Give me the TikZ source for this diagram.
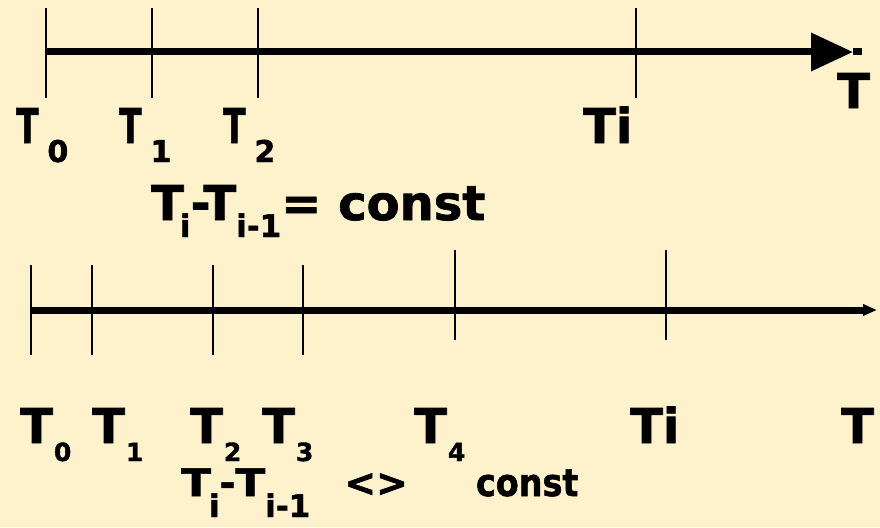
\documentclass[tikz,border=0pt]{standalone}
\usepackage{fontspec}
\setmainfont{DejaVu Sans}[BoldFeatures={FakeBold=1.5}]
\usepackage{graphicx}
\usetikzlibrary{arrows.meta}

\definecolor{slidebg}{HTML}{FEF2CC}
\newcommand{\bigT}{\fontsize{48}{50}\selectfont\bfseries}
\newcommand{\midT}{\fontsize{38}{40}\selectfont\bfseries}
% tick labels: narrow T on the upper axis, plain T below
\newcommand{\topT}[1]{\scalebox{0.68}[1]{T}\hspace{9pt}\raisebox{-19pt}{\fontsize{30}{30}\selectfont #1}}
\newcommand{\botT}[1]{T\hspace{1pt}\raisebox{-18pt}{\fontsize{25}{25}\selectfont #1}}
\newcommand{\fsub}[3]{\raisebox{-#1pt}{\fontsize{#2}{#2}\selectfont #3}}

\begin{document}
\begin{tikzpicture}[x=1pt,y=-1pt,
  axis/.style={line width=7pt},
  tick/.style={line width=2pt},
  lbl/.style={font=\bigT,inner sep=0pt,anchor=base west}]
  \fill[slidebg] (0,0) rectangle (880,527);
  \useasboundingbox (0,0) rectangle (880,527);

  % equal steps
  \coordinate (a0) at (46,52);
  \coordinate (atip) at (853,52);
  \coordinate (aend) at (862,52);
  \foreach \x in {46,152,258,636} \draw[tick] (\x,8) -- (\x,98);
  \draw[axis,-{Triangle[length=42pt,width=37pt]}] (a0) -- (atip);
  \draw[axis] (atip) -- (aend);
  \node[lbl] (t0) at (16,143) {\topT{0}};
  \node[lbl] (t1) at (119,143) {\topT{1}};
  \node[lbl] (t2) at (223,143) {\topT{2}};
  \node[lbl] (ti) at (583,143) {Ti};
  \node[lbl] (tT) at (837,108) {T};
  \node[lbl] (eq) at (151,220)
    {T\hspace{-4pt}\fsub{17}{31}{i}-T\fsub{17}{31}{i-1}= const};

  % unequal steps
  \coordinate (b0) at (31,310);
  \coordinate (bend) at (877,310);
  \foreach \x in {31,92,213,303} \draw[tick] (\x,265) -- (\x,355);
  \foreach \x in {455,666} \draw[tick] (\x,250) -- (\x,340);
  \draw[axis,-{Triangle[length=14pt,width=11pt]}] (b0) -- (bend);
  \node[lbl] (b0l) at (20,443) {\botT{0}};
  \node[lbl] (b1l) at (92,443) {\botT{1}};
  \node[lbl] (b2l) at (190,443) {\botT{2}};
  \node[lbl] (b3l) at (262,443) {\botT{3}};
  \node[lbl] (b4l) at (414,443) {\botT{4}};
  \node[lbl] (bil) at (630,443) {Ti};
  \node[lbl] (bTl) at (841,443) {T};
  \node[lbl,font=\midT] (neq) at (181,496)
    {\scalebox{1.15}[1]{T}\hspace{-2pt}\fsub{21}{31}{i}-\scalebox{1.15}[1]{T}\fsub{21}{31}{i-1}\hspace{34pt}<>\hspace{68pt}\scalebox{0.88}[1]{const}};
\end{tikzpicture}
\end{document}
